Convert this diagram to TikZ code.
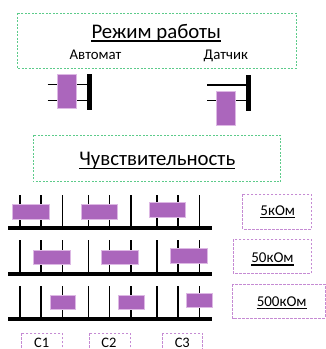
\documentclass[tikz,border=0pt]{standalone}
\usepackage{fontspec}
\setmainfont{Carlito}
\definecolor{gbox}{HTML}{5CCB8A}
\definecolor{pbox}{HTML}{C58AD3}
\definecolor{pfill}{HTML}{AB66BC}
\definecolor{pedge}{HTML}{DDB8E4}
\tikzset{
  greenbox/.style={draw=gbox, line width=1pt, dash pattern=on 2pt off 1.5pt},
  purplebox/.style={draw=pbox, line width=0.9pt, dash pattern=on 2.5pt off 1.5pt},
  knob/.style={fill=pfill, draw=pedge, line width=0.8pt},
  wire/.style={line width=1.5pt, black},
  busbar/.style={line width=4pt, black},
  swbar/.style={line width=5pt, black},
  txt/.style={inner sep=0pt, anchor=base},
  uline/.style={line width=1.4pt, black},
}
\begin{document}
\begin{tikzpicture}[x=1pt,y=-1pt]
\useasboundingbox (0,0) rectangle (326,349);
% mode box
\draw[greenbox] (17,13) rectangle (296,68);
\node[txt, font=\fontsize{20.8}{24}\selectfont] (mode) at (156.3,38.3) {Режим работы};
\draw[uline] ([yshift=-2.8pt]mode.base west) -- ([yshift=-2.8pt]mode.base east);
\node[txt, font=\fontsize{14.8}{17}\selectfont] (auto) at (95.5,59.3) {Автомат};
\node[txt, font=\fontsize{14.8}{17}\selectfont] (sens) at (225.8,59.3) {Датчик};
% switch 1
\coordinate (a1) at (47.7,84.3); \coordinate (a1e) at (87,84.3);
\coordinate (a2) at (47.7,100.7); \coordinate (a2e) at (87,100.7);
\draw[wire] (a1) -- (a1e);
\draw[wire] (a2) -- (a2e);
\coordinate (ab1) at (89.3,74); \coordinate (ab2) at (89.3,110);
\draw[swbar] (ab1) -- (ab2);
\draw[knob] (57.3,74) rectangle (76,108.3);
% switch 2
\coordinate (b1) at (207,85); \coordinate (b1e) at (246,85);
\coordinate (b2) at (207,100.7); \coordinate (b2e) at (246,100.7);
\draw[wire] (b1) -- (b1e);
\draw[wire] (b2) -- (b2e);
\coordinate (bb1) at (248.8,75); \coordinate (bb2) at (248.8,110.7);
\draw[swbar] (bb1) -- (bb2);
\draw[knob] (216.7,91.7) rectangle (235.3,125);
% sensitivity box
\draw[greenbox] (33.3,135.3) rectangle (280.7,181.7);
\node[txt, font=\fontsize{20.8}{24}\selectfont] (sensit) at (157.3,165.5) {Чувствительность};
\draw[uline] ([yshift=-3.2pt]sensit.base west) -- ([yshift=-3.2pt]sensit.base east);
% rows
\foreach \base/\top in {228.4/195, 273.8/240, 318.9/286}{
  \foreach \x in {20,40.8,62.3,88.3,109.3,131,156.8,178,199.5}{
    \draw[wire] (\x,\top) -- (\x,\base);
  }
  \draw[busbar] (8.3,\base) -- (211.7,\base);
}
% row 1 knobs
\draw[knob] (12.7,204) rectangle (49,219.3);
\draw[knob] (81,204) rectangle (117.3,219.3);
\draw[knob] (149.7,202.3) rectangle (185.7,217.3);
% row 2 knobs
\draw[knob] (33.3,250.3) rectangle (70,264.7);
\draw[knob] (101.7,250.3) rectangle (138.3,264.7);
\draw[knob] (170.7,248.7) rectangle (207,263);
% row 3 knobs
\draw[knob] (50,295) rectangle (75,309.3);
\draw[knob] (118.3,295) rectangle (144,309.3);
\draw[knob] (186.7,293.3) rectangle (212,307.7);
% resistance boxes
\draw[purplebox] (242.7,194.3) rectangle (311.3,229);
\node[txt, font=\fontsize{15}{18}\selectfont] (r1) at (277.8,215) {5кОм};
\draw[uline] ([yshift=-2.7pt]r1.base west) -- ([yshift=-2.7pt]r1.base east);
\draw[purplebox] (233.3,239.3) rectangle (311.3,273.3);
\node[txt, font=\fontsize{15}{18}\selectfont] (r2) at (272.5,262.3) {50кОм};
\draw[uline] ([yshift=-2.7pt]r2.base west) -- ([yshift=-2.7pt]r2.base east);
\draw[purplebox] (232.7,284) rectangle (325,318.3);
\node[txt, font=\fontsize{15}{18}\selectfont] (r3) at (281.7,306) {500кОм};
\draw[uline] ([yshift=-2.7pt]r3.base west) -- ([yshift=-2.7pt]r3.base east);
% C boxes
\draw[purplebox] (21.7,333.3) rectangle (62.3,352);
\draw[purplebox] (89.3,333.3) rectangle (130,352);
\draw[purplebox] (162.7,333.3) rectangle (202.7,352);
\node[txt, font=\fontsize{14.5}{17}\selectfont] (c1) at (41.7,347.2) {C1};
\node[txt, font=\fontsize{14.5}{17}\selectfont] (c2) at (109,347.2) {C2};
\node[txt, font=\fontsize{14.5}{17}\selectfont] (c3) at (182.3,347.2) {C3};
\end{tikzpicture}
\end{document}
